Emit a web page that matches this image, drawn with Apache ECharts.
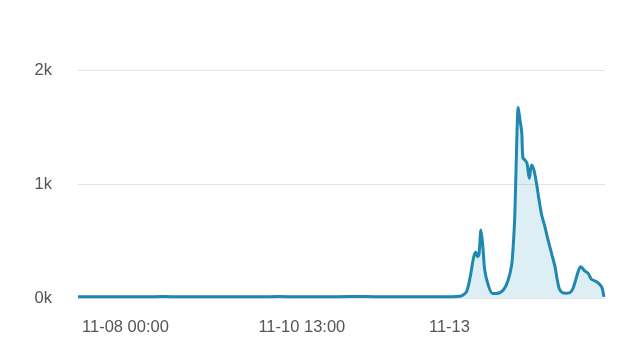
<!DOCTYPE html>
<html>
<head>
<meta charset="utf-8">
<script src="https://cdn.jsdelivr.net/npm/echarts@6/dist/echarts.min.js"></script>
<style>
html,body{margin:0;padding:0;background:#fff;}
#chart{width:640px;height:354px;}
</style>
</head>
<body>
<div id="chart"></div>
<script>
// hours since 11-08 00:00
var hours = [-1.4, 8, 18, 28, 38, 48, 58, 68, 78, 88, 98, 108, 118, 128, 130.7, 131.8, 133.0, 134.2, 135.5, 136.2, 136.8, 137.3, 138.0, 138.6, 139.3, 140.5, 142.0, 143.4, 145.7, 147.4, 148.6, 149.1, 149.7, 150.3, 150.9, 151.5, 152.1, 152.5, 153.2, 153.9, 154.7, 155.5, 156.3, 157.2, 158.1, 159.0, 160.1, 161.2, 162.4, 163.6, 164.4, 165.3, 167.0, 168.7, 169.9, 171.6, 172.5, 173.9, 175.1, 176.2, 178.0, 179.7, 180.5];
var values = [10, 12, 10, 14, 10, 12, 10, 14, 10, 12, 14, 10, 12, 12, 15, 26, 55, 175, 362, 401, 362, 380, 596, 465, 246, 114, 40, 40, 70, 158, 289, 438, 725, 1300, 1670, 1560, 1450, 1230, 1210, 1184, 1050, 1166, 1123, 1006, 859, 728, 626, 509, 392, 275, 158, 70, 41, 46, 88, 231, 275, 237, 216, 164, 143, 100, 10];
var tickHours = [0, 61, 120];
var tickLabels = ['11-08 00:00', '11-10 13:00', '11-13'];

var data = hours.map(function (h, i) { return [h, values[i]]; });

var chart = echarts.init(document.getElementById('chart'), null, {renderer: 'canvas'});
chart.setOption({
  backgroundColor: '#ffffff',
  animation: false,
  grid: {left: 78, right: 35, top: 70, bottom: 56, containLabel: false},
  xAxis: {
    type: 'value',
    min: -1.4,
    max: 180.9,
    splitLine: {show: false},
    axisLine: {show: false},
    axisTick: {show: false},
    axisLabel: {
      customValues: tickHours,
      formatter: function (v) {
        var i = tickHours.indexOf(v);
        return i >= 0 ? tickLabels[i] : '';
      },
      align: 'left',
      margin: 21,
      color: '#555',
      fontSize: 16.5,
      fontFamily: 'Liberation Sans, Arial, sans-serif'
    }
  },
  yAxis: {
    type: 'value',
    min: 0,
    max: 2000,
    interval: 1000,
    axisLine: {show: false},
    axisTick: {show: false},
    splitLine: {lineStyle: {color: '#e3e3e3', width: 1}},
    axisLabel: {
      formatter: function (v) { return (v / 1000) + 'k'; },
      margin: 26,
      color: '#555',
      fontSize: 16.5,
      fontFamily: 'Liberation Sans, Arial, sans-serif'
    }
  },
  series: [{
    type: 'line',
    data: data,
    smooth: 0.3,
    showSymbol: false,
    lineStyle: {color: '#1e88b0', width: 3},
    areaStyle: {color: 'rgba(60,160,200,0.25)'}
  }]
});
</script>
</body>
</html>
